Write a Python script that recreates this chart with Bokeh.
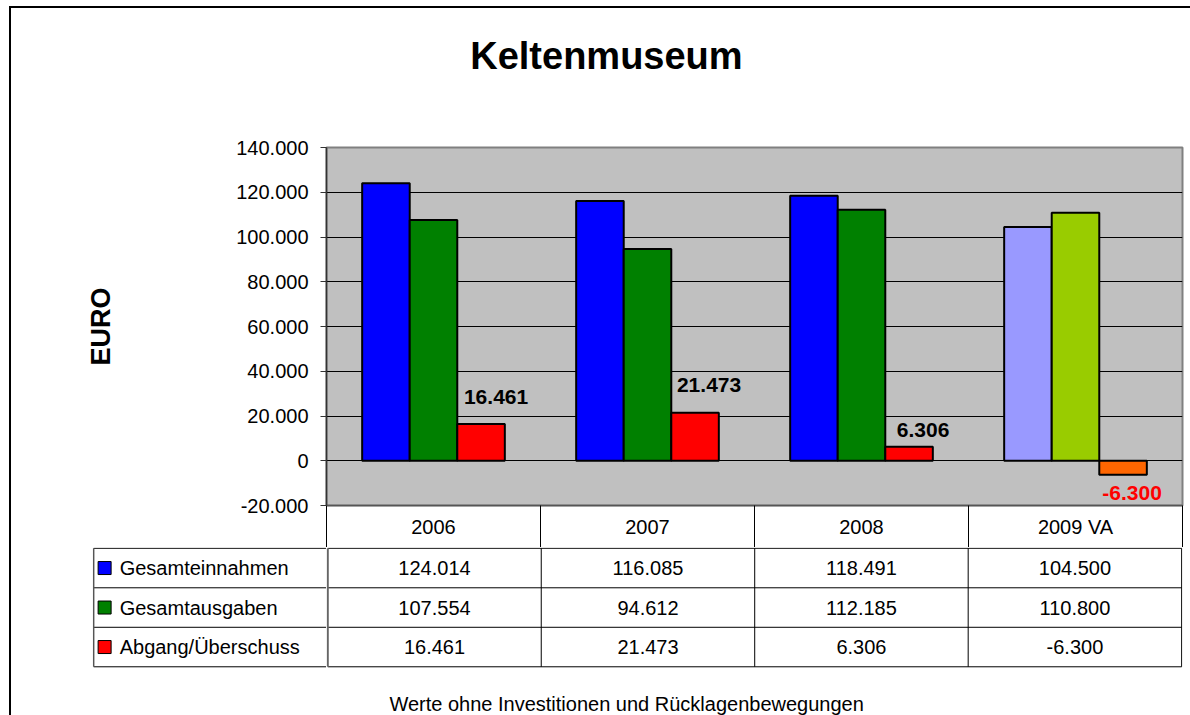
from bokeh.plotting import figure
from bokeh.models import ColumnDataSource, Range1d, FactorRange, FixedTicker, LinearAxis
from bokeh.transform import dodge
from bokeh.layouts import column, row
from bokeh.core.properties import value
from bokeh.embed import file_html
from bokeh.resources import INLINE

# ---------------- data ----------------
years = ["2006", "2007", "2008", "2009 VA"]
series_names = ["Gesamteinnahmen", "Gesamtausgaben", "Abgang/Überschuss"]
einnahmen = [124014, 116085, 118491, 104500]
ausgaben = [107554, 94612, 112185, 110800]
abgang = [16461, 21473, 6306, -6300]
y_tick_values = [-20000, 0, 20000, 40000, 60000, 80000, 100000, 120000, 140000]
y_tick_labels = ["-20.000", "0", "20.000", "40.000", "60.000", "80.000",
                 "100.000", "120.000", "140.000"]
title_text = "Keltenmuseum"
y_label = "EURO"
caption = "Werte ohne Investitionen und Rücklagenbewegungen"

# ---------------- styles / layout constants ----------------
FONT = "Liberation Sans"
c_ein = ["#0000FF", "#0000FF", "#0000FF", "#9999FF"]
c_aus = ["#008000", "#008000", "#008000", "#99CC00"]
c_abg = ["#FF0000", "#FF0000", "#FF0000", "#FF6600"]
key_colors = ["#0000FF", "#008000", "#FF0000"]
label_gap = [19, 20, 9, 11]     # px between bar end and its label
label_dx = [15, 14, 14, 9]      # px horizontal shift of labels
bar_w = 2.0 / 9.0
TITLE_H = 100
HEADER_H = 42
LEFT = 326
RIGHT = 8


def de(v):
    return f"{v:,}".replace(",", ".")


n = len(years)
nrows = len(series_names)

# ---------------- title strip ----------------
pt = figure(width=1190, height=TITLE_H, x_range=Range1d(0, 1), y_range=Range1d(0, 1),
            output_backend="svg", toolbar_location=None,
            min_border_left=LEFT, min_border_right=RIGHT, min_border_top=0, min_border_bottom=0)
pt.axis.visible = False
pt.grid.visible = False
pt.outline_line_color = None
pt.background_fill_color = None
pt.border_fill_color = None
pt.text(x=[0.327], y=[0.445], text=[title_text], text_font=value(FONT),
        text_font_size="38px", text_font_style="bold", text_color="black",
        text_align="center", text_baseline="middle")

# ---------------- chart (with the table's header row as its x axis) ----------------
p1 = figure(width=1190, height=505 + HEADER_H - TITLE_H,
            x_range=FactorRange(factors=years),
            y_range=Range1d(-20000, 140000),
            output_backend="svg", toolbar_location=None,
            min_border_left=LEFT, min_border_right=RIGHT,
            min_border_top=147 - TITLE_H, min_border_bottom=HEADER_H)
p1.background_fill_color = "#C0C0C0"
p1.border_fill_color = None
p1.outline_line_color = "#808080"
p1.outline_line_width = 2

src = ColumnDataSource(dict(years=years, ein=einnahmen, aus=ausgaben, abg=abgang,
                            c_ein=c_ein, c_aus=c_aus, c_abg=c_abg))

p1.ygrid.ticker = FixedTicker(ticks=y_tick_values)
p1.ygrid.grid_line_color = "black"
p1.ygrid.grid_line_width = 1
p1.xgrid.visible = False

for col, colr, off in [("ein", "c_ein", -bar_w), ("aus", "c_aus", 0.0), ("abg", "c_abg", bar_w)]:
    p1.vbar(x=dodge("years", off, range=p1.x_range), top=col, bottom=0, width=bar_w,
            source=src, fill_color=colr, line_color="black", line_width=2)

lbl = ColumnDataSource(dict(
    years=years, y=abgang, text=[de(v) for v in abgang],
    dx=label_dx,
    dy=[(-(g + 8) if v >= 0 else g + 7) for v, g in zip(abgang, label_gap)],
    color=["black" if v >= 0 else "#FF0000" for v in abgang]))
p1.text(x=dodge("years", bar_w, range=p1.x_range), y="y", text="text", source=lbl,
        x_offset="dx", y_offset="dy", text_color="color",
        text_font=value(FONT), text_font_style="bold", text_font_size="21px",
        text_align="center", text_baseline="alphabetic")

# header row: year labels at category centres, cell separators as minor ticks
p1.xaxis.visible = False
centres = [i + 0.5 for i in range(n)]
hdr = LinearAxis(ticker=FixedTicker(ticks=centres, minor_ticks=list(range(n + 1))),
                 major_label_overrides={c: y for c, y in zip(centres, years)})
hdr.major_label_text_font = FONT
hdr.major_label_text_font_size = "20px"
hdr.major_label_text_color = "black"
hdr.major_label_standoff = 10 - HEADER_H
hdr.major_tick_out = 0
hdr.major_tick_in = 0
hdr.minor_tick_out = HEADER_H
hdr.minor_tick_in = 0
hdr.minor_tick_line_color = "black"
hdr.minor_tick_line_width = 1
hdr.axis_line_color = "#555555"
hdr.axis_line_width = 1.5
p1.add_layout(hdr, "below")

ya = p1.yaxis[0]
ya.ticker = FixedTicker(ticks=y_tick_values)
ya.major_label_overrides = {v: t for v, t in zip(y_tick_values, y_tick_labels)}
ya.major_label_text_font = FONT
ya.major_label_text_font_size = "20px"
ya.major_label_text_color = "black"
ya.major_label_standoff = 12
ya.major_tick_out = 6
ya.major_tick_in = 0
ya.major_tick_line_color = "#333333"
ya.minor_tick_line_color = None
ya.axis_line_color = "#333333"
ya.axis_line_width = 1.5
ya.axis_label = y_label
ya.axis_label_text_font = FONT
ya.axis_label_text_font_style = "bold"
ya.axis_label_text_font_size = "27px"
ya.axis_label_text_color = "black"
ya.axis_label_standoff = 117

# ---------------- data table body ----------------
row_y = [nrows - r - 0.5 for r in range(nrows)]
TABLE_H = 715 - 505 - HEADER_H
UNIT_PX = 39.5
y_top = nrows + 0.02
y_rng = (y_top - TABLE_H / UNIT_PX, y_top)

# label column (legend keys + series names)
pl = figure(width=LEFT, height=TABLE_H,
            x_range=Range1d(-0.005, 1), y_range=Range1d(*y_rng),
            output_backend="svg", toolbar_location=None,
            min_border_left=92, min_border_right=0,
            min_border_top=0, min_border_bottom=0)
pl.axis.visible = False
pl.grid.visible = False
pl.outline_line_color = None
pl.background_fill_color = "white"
pl.border_fill_color = None
pl.segment(x0=[0] * (nrows + 1), x1=[1] * (nrows + 1),
           y0=list(range(nrows + 1)), y1=list(range(nrows + 1)),
           line_color="black", line_width=1)
pl.segment(x0=[0], x1=[0], y0=[0], y1=[nrows], line_color="#555555", line_width=1.5)
pl.scatter(x=[11.0 / 234.0] * nrows, y=row_y, marker="square", size=13,
           fill_color=key_colors, line_color="black", line_width=1)
pl.text(x=[0] * nrows, y=row_y, text=series_names, x_offset=26,
        text_font=value(FONT), text_font_size="20px", text_color="black",
        text_align="left", text_baseline="middle")

# year columns
p2 = figure(width=1190 - LEFT, height=TABLE_H,
            x_range=Range1d(-0.006, n + 0.004), y_range=Range1d(*y_rng),
            output_backend="svg", toolbar_location=None,
            min_border_left=0, min_border_right=RIGHT,
            min_border_top=0, min_border_bottom=0)
p2.axis.visible = False
p2.grid.visible = False
p2.outline_line_color = None
p2.background_fill_color = "white"
p2.border_fill_color = None

p2.segment(x0=[0] * (nrows + 1), x1=[n] * (nrows + 1),
           y0=list(range(nrows + 1)), y1=list(range(nrows + 1)),
           line_color="black", line_width=1)
p2.segment(x0=list(range(1, n + 1)), x1=list(range(1, n + 1)), y0=[0] * n, y1=[nrows] * n,
           line_color="black", line_width=1)
p2.segment(x0=[0], x1=[0], y0=[0], y1=[nrows], line_color="#666666", line_width=2)

rows = [einnahmen, ausgaben, abgang]
xs, ys, ts = [], [], []
for r, vals in enumerate(rows):
    for i, v in enumerate(vals):
        xs.append(i + 0.5)
        ys.append(nrows - r - 0.5)
        ts.append(de(v))
p2.text(x=xs, y=ys, text=ts, text_font=value(FONT), text_font_size="20px",
        text_color="black", text_align="center", text_baseline="middle")

# caption under the table
p2.text(x=[1.4], y=[-37.0 / UNIT_PX], text=[caption], text_font=value(FONT),
        text_font_size="20px", text_color="black",
        text_align="center", text_baseline="middle")

frame_css = ("linear-gradient(#000,#000) 9px 6px / 2px 100% no-repeat, "
             "linear-gradient(#000,#000) 9px 6px / 100% 2px no-repeat, white")
layout = column(pt, p1, row(pl, p2, spacing=0), spacing=0, styles={"background": frame_css})
open("out.html", "w").write(file_html(layout, INLINE))
